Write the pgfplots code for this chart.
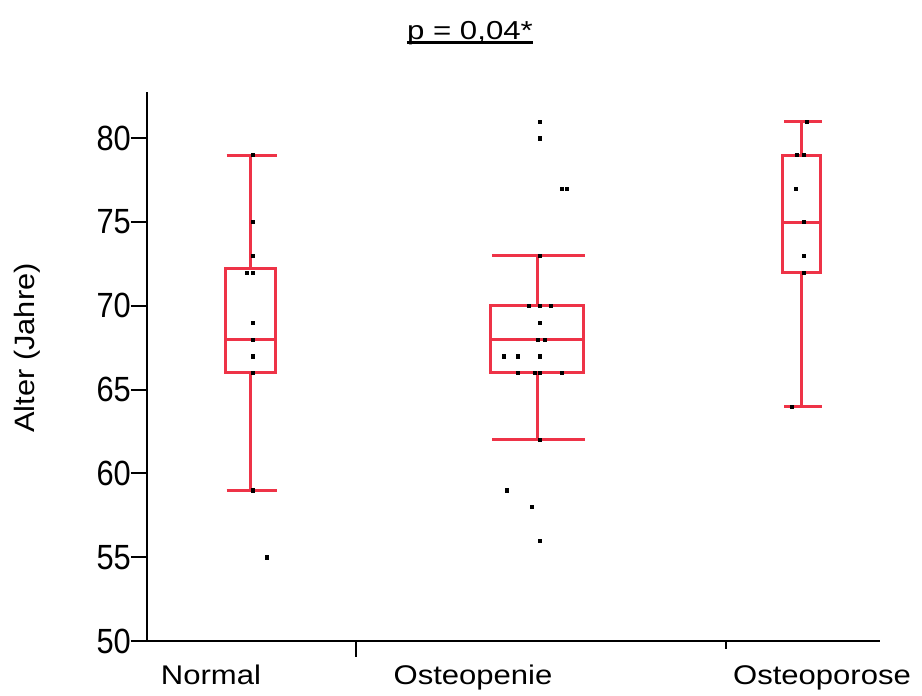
\documentclass[border=0pt]{standalone}
\usepackage{fontspec}
\setmainfont{Liberation Sans}
\usepackage{graphicx}
\usepackage{pgfplots}
\pgfplotsset{compat=1.18}
\definecolor{boxred}{HTML}{EE3347}
\begin{document}
\begin{tikzpicture}
\useasboundingbox (0,0) rectangle (922pt,696pt);
\begin{axis}[
  at={(147pt,55pt)}, anchor=south west,
  scale only axis, width=733pt, height=549pt,
  xmin=147, xmax=880, ymin=50, ymax=82.76,
  axis x line=bottom, axis y line=left,
  axis line style={-, line width=2pt},
  tick align=outside,
  tick style={line width=2pt, black},
  major tick length=16pt,
  minor tick length=8pt,
  ytick={50,55,60,65,70,75,80},
  yticklabels={\scalebox{0.88}[1]{50},\scalebox{0.88}[1]{55},\scalebox{0.88}[1]{60},\scalebox{0.88}[1]{65},\scalebox{0.88}[1]{70},\scalebox{0.88}[1]{75},\scalebox{0.88}[1]{80}},
  yticklabel style={font=\fontsize{35}{35}\selectfont, inner sep=0pt, xshift=0pt},
  xtick={356}, xticklabels={},
  minor xtick={726},
  extra x ticks={211,473,822},
  extra x tick labels={\scalebox{1.15}[1]{Normal},\scalebox{1.15}[1]{Osteopenie},\scalebox{1.15}[1]{Osteoporose}},
  extra x tick style={major tick length=0pt, xticklabel style={font=\fontsize{27}{27}\selectfont, anchor=base, inner sep=0pt, yshift=-44pt}},
  ylabel={\scalebox{1.1}[1]{Alter (Jahre)}},
  ylabel style={font=\fontsize{28}{28}\selectfont, at={(axis description cs:-0.1637,0.5337)}, anchor=center},
  clip=false,
  unbounded coords=jump,
]
% Normal: box 66-72.2, median 68, whiskers 59-79
\addplot[boxred, line width=3pt, line join=miter, mark=none] coordinates {
 (250.5,66) (275.5,66) (275.5,72.2) (225.5,72.2) (225.5,66) (250.5,66)
 (250.5,nan)
 (225.5,68) (275.5,68)
 (250.5,nan)
 (250.5,72.2) (250.5,79)
 (250.5,nan)
 (226.5,79) (276.5,79)
 (250.5,nan)
 (250.5,66) (250.5,59)
 (250.5,nan)
 (226.5,59) (276.5,59)
};
% Osteopenie: box 66-70, median 68, whiskers 62-73
\addplot[boxred, line width=3pt, line join=miter, mark=none] coordinates {
 (537,66) (583.7,66) (583.7,70) (490.3,70) (490.3,66) (537,66)
 (537,nan)
 (490.3,68) (583.7,68)
 (537,nan)
 (537,70) (537,73)
 (537,nan)
 (492,73) (585,73)
 (537,nan)
 (537,66) (537,62)
 (537,nan)
 (492,62) (585,62)
};
% Osteoporose: box 72-79, median 75, whiskers 64-81
\addplot[boxred, line width=3pt, line join=miter, mark=none] coordinates {
 (801.3,72) (820.3,72) (820.3,79) (782.3,79) (782.3,72) (801.3,72)
 (801.3,nan)
 (782.3,75) (820.3,75)
 (801.3,nan)
 (801.3,79) (801.3,81)
 (801.3,nan)
 (784,81) (822,81)
 (801.3,nan)
 (801.3,72) (801.3,64)
 (801.3,nan)
 (784,64) (822,64)
};
% Individual values
\addplot[only marks, mark=square*, mark size=1.6pt, black] coordinates {
 (253,79) (253,75) (253,73) (247,72) (253,72) (253,69) (253,68) (253,67) (253,66) (253,59) (267,55)
};
\addplot[only marks, mark=square*, mark size=1.6pt, black] coordinates {
 (540,81) (540,80) (562,77) (567,77) (540,73) (529,70) (540,70) (551,70) (540,69) (538,68) (545,68)
 (504,67) (518,67) (540,67) (518,66) (535,66) (540,66) (562,66) (540,62) (507,59) (532,58) (540,56)
};
\addplot[only marks, mark=square*, mark size=1.6pt, black] coordinates {
 (807,81) (797,79) (804,79) (796,77) (804,75) (804,73) (804,72) (792,64)
};
\end{axis}
\node[inner sep=0pt, anchor=base, font=\fontsize{26}{26}\selectfont] (t) at (470pt,656pt) {\scalebox{1.2}[1]{p = 0,04*}};
\draw[line width=2.7pt] ([yshift=-2.5pt]t.base west) -- ([yshift=-2.5pt]t.base east);
\end{tikzpicture}
\end{document}
